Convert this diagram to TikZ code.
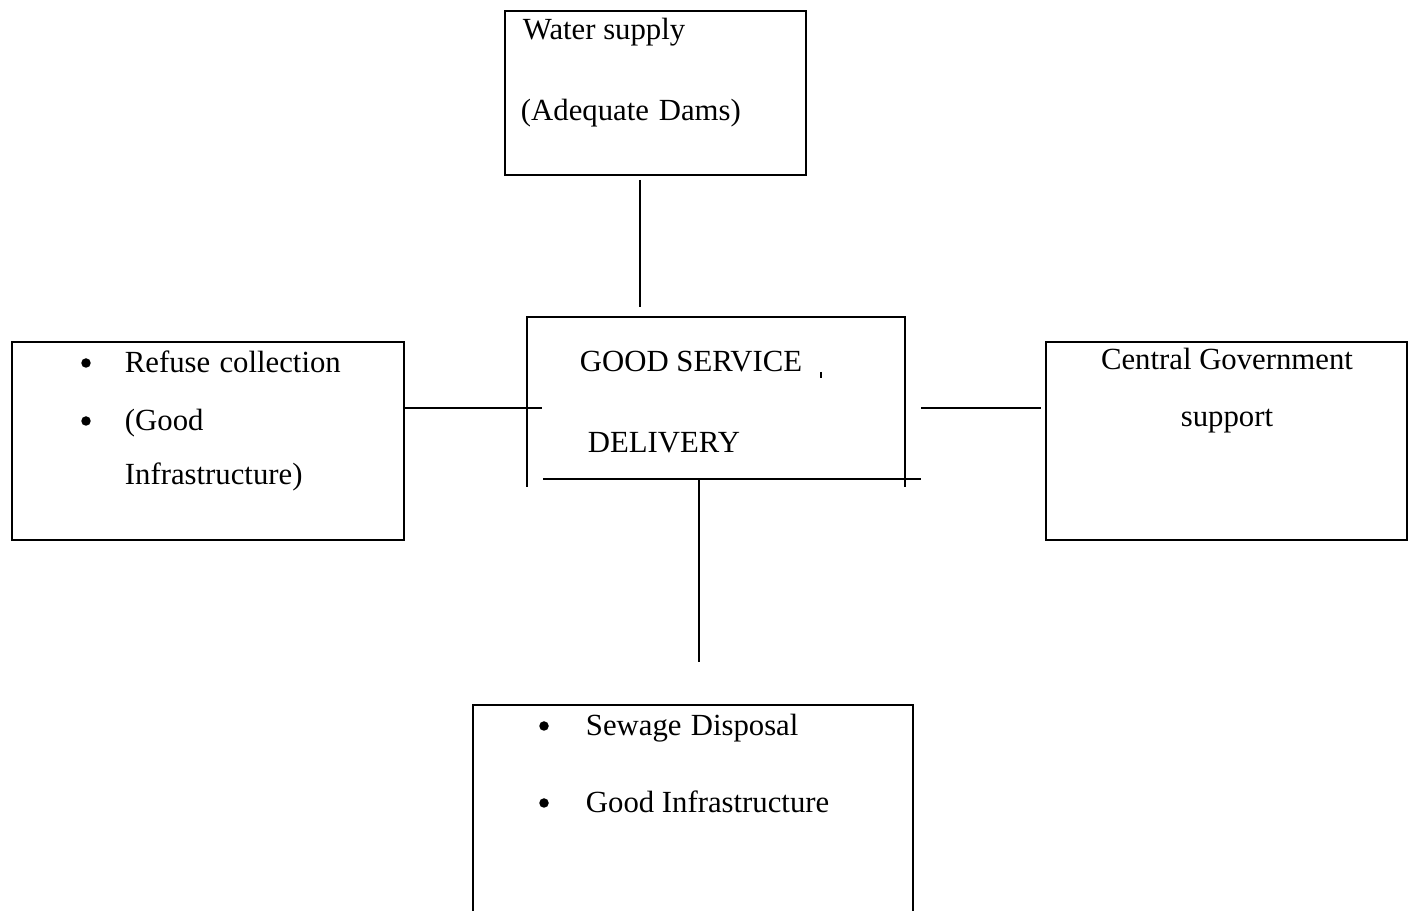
\documentclass[tikz,border=0pt]{standalone}
\usepackage{fontspec}
\setmainfont{Liberation Serif}
\usetikzlibrary{fit}
\begin{document}
\begin{tikzpicture}[x=0.02cm,y=-0.02cm, line width=1.1pt,
  box/.style={draw, rectangle, inner sep=0pt},
  frame/.style={rectangle, inner sep=0pt},
  txt/.style={anchor=base west, inner sep=0pt, font=\fontsize{17.5}{21}\selectfont},
  ctxt/.style={anchor=base, inner sep=0pt, font=\fontsize{17.5}{21}\selectfont},
  bul/.style={circle, fill, draw=none, inner sep=0pt, minimum size=0.19cm}]
\useasboundingbox (0,0) rectangle (1411,911);

% boxes
\node[box, fit={(505,11) (806,175)}] (water) {};
\node[box, fit={(12,342) (404,540)}] (refuse) {};
\node[box, fit={(1046,342) (1407,540)}] (gov) {};
\node[frame, fit={(474,706) (912,916)}] (sewage) {};
\draw (sewage.south west) -- (sewage.north west) -- (sewage.north east) -- (sewage.south east);
\node[frame, fit={(527,317) (905,479)}] (center) {};

% centre box (open corners)
\coordinate (cTL) at (527,317);
\coordinate (cTR) at (905,317);
\coordinate (cLB) at (527,487);
\coordinate (cRB) at (905,487);
\coordinate (cBL) at (543,479);
\coordinate (cBR) at (921,479);
\draw (cLB) -- (cTL) -- (cTR) -- (cRB);
\draw (cBL) -- (cBR);
\coordinate (dotA) at (821,372);
\coordinate (dotB) at (821,378);
\draw[line width=1.4pt] (dotA) -- (dotB);

% texts
\node[txt] (w1) at (522,40) {Water supply};
\node[txt] (w2) at (520,121) {(Adequate\hspace{0.32em}Dams)};
\node[txt] (g1) at (579,372) {GOOD SERVICE};
\node[txt] (g2) at (587,453) {DELIVERY};
\node[bul] (rb1) at (86,363) {};
\node[txt] (r1) at (124,373) {Refuse\hspace{0.3em}collection};
\node[bul] (rb2) at (86,421) {};
\node[txt] (r2) at (124,431) {(Good};
\node[txt] (r3) at (124,485) {Infrastructure)};
\node[ctxt] (c1) at (1227,370) {Central Government};
\node[ctxt] (c2) at (1227,427) {support};
\node[bul] (sb1) at (544,726) {};
\node[txt] (s1) at (585,736) {Sewage\hspace{0.3em}Disposal};
\node[bul] (sb2) at (544,803) {};
\node[txt] (s2) at (585,813) {Good Infrastructure};

% connectors
\coordinate (wA) at (640,180);
\coordinate (wB) at (640,307);
\draw (wA) -- (wB);
\coordinate (lA) at (404,408);
\coordinate (lB) at (542,408);
\draw (lA) -- (lB);
\coordinate (rA) at (921,408);
\coordinate (rB) at (1041,408);
\draw (rA) -- (rB);
\coordinate (dA) at (699,479);
\coordinate (dB) at (699,662);
\draw (dA) -- (dB);
\end{tikzpicture}
\end{document}
